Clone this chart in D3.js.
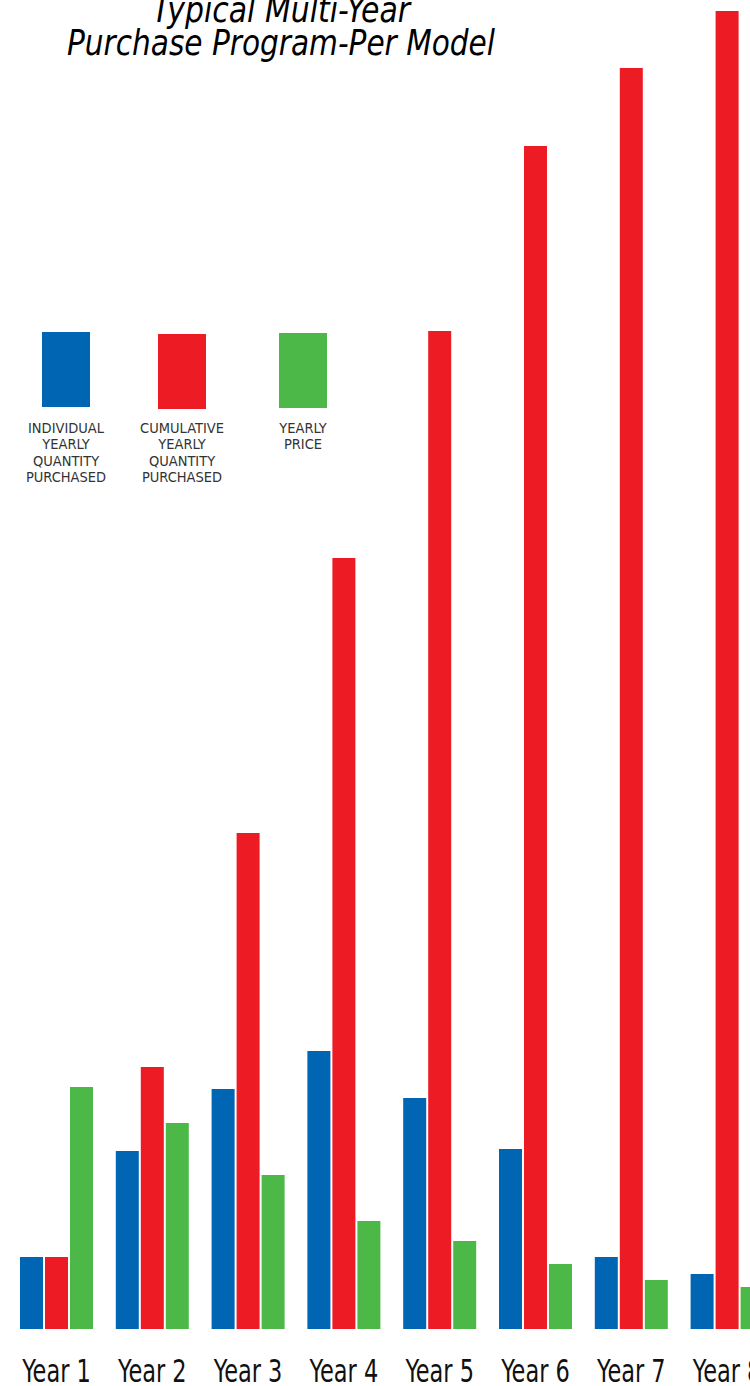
<!DOCTYPE html>
<html>
<head>
<meta charset="utf-8">
<script src="https://cdn.jsdelivr.net/npm/d3@7"></script>
<style>
  body { margin: 0; background: #fff; }
  svg { display: block; }
</style>
</head>
<body>
<svg width="750" height="1386"></svg>
<script>
var years = ['Year 1', 'Year 2', 'Year 3', 'Year 4', 'Year 5', 'Year 6', 'Year 7', 'Year 8'];
var seriesNames = ['individual', 'cumulative', 'price'];
var individualQty = [72, 178, 240, 278, 231, 180, 72, 55];
var cumulativeQty = [72, 262, 496, 771, 998, 1183, 1261, 1318];
var yearlyPrice = [242, 206, 154, 108, 88, 65, 49, 42];
var legendLabels = [
    ['INDIVIDUAL', 'YEARLY', 'QUANTITY', 'PURCHASED'],
    ['CUMULATIVE', 'YEARLY', 'QUANTITY', 'PURCHASED'],
    ['YEARLY', 'PRICE']
];
var titleLines = ['Typical Multi-Year', 'Purchase Program-Per Model'];

var colors = { individual: '#0066b3', cumulative: '#ed1c24', price: '#4cb848' };
var font = "'Liberation Sans Narrow', 'DejaVu Sans Condensed', sans-serif";

var svg = d3.select('svg');
var baseY = 1329;

var data = years.map(function (y, i) {
    return { year: y, individual: individualQty[i], cumulative: cumulativeQty[i], price: yearlyPrice[i] };
});

var step = 95.8;
var x0 = d3.scaleBand()
    .domain(years)
    .range([20 - 11.4, 20 - 11.4 + step * 8])
    .paddingInner(22.8 / step)
    .paddingOuter(11.4 / step);

var x1 = d3.scaleBand()
    .domain(seriesNames)
    .range([0, x0.bandwidth()])
    .paddingInner(0.08);

var y = d3.scaleLinear()
    .domain([0, 1329])
    .range([baseY, 0]);

// title (condensed italic)
var titleW = [258, 428];
var titleX = [281, 281];
svg.append('g').selectAll('text')
    .data(titleLines)
    .enter()
    .append('text')
    .attr('x', function (d, i) { return titleX[i] - titleW[i] / 2; })
    .attr('y', function (d, i) { return 22 + i * 33; })
    .attr('textLength', function (d, i) { return titleW[i]; })
    .attr('lengthAdjust', 'spacingAndGlyphs')
    .style('font-family', font)
    .style('font-style', 'italic')
    .style('font-size', '35px')
    .style('fill', '#000')
    .text(function (d) { return d; });

// bars
var groups = svg.append('g').selectAll('g')
    .data(data)
    .enter()
    .append('g')
    .attr('transform', function (d) { return 'translate(' + x0(d.year) + ',0)'; });

groups.selectAll('rect')
    .data(function (d) { return seriesNames.map(function (k) { return { key: k, value: d[k] }; }); })
    .enter()
    .append('rect')
    .attr('x', function (d) { return x1(d.key); })
    .attr('y', function (d) { return y(d.value); })
    .attr('width', x1.bandwidth())
    .attr('height', function (d) { return baseY - y(d.value); })
    .attr('fill', function (d) { return colors[d.key]; });

// x labels (condensed by a horizontal scale)
var xAxis = d3.axisBottom(x0).tickSize(0).tickPadding(0);
var axisG = svg.append('g')
    .attr('transform', 'translate(0,' + 1382 + ')')
    .call(xAxis);
axisG.select('.domain').remove();
axisG.selectAll('text')
    .attr('y', 0)
    .attr('dy', 0)
    .attr('text-anchor', 'middle')
    .attr('transform', 'scale(0.78,1)')
    .style('font-family', font)
    .style('font-size', '32px')
    .style('fill', '#111');

// legend
var legendX = [42, 158, 279];
var legendY = [332, 334, 333];
var legend = svg.append('g').selectAll('g')
    .data(seriesNames)
    .enter()
    .append('g')
    .attr('transform', function (d, i) { return 'translate(' + legendX[i] + ',' + legendY[i] + ')'; });

legend.append('rect')
    .attr('width', 48)
    .attr('height', 75)
    .attr('fill', function (d) { return colors[d]; });

legend.each(function (d, i) {
    d3.select(this).selectAll('text')
        .data(legendLabels[i])
        .enter()
        .append('text')
        .attr('x', 24)
        .attr('y', function (t, j) { return 433 - legendY[i] + j * 16.3; })
        .attr('text-anchor', 'middle')
        .style('font-family', font)
        .style('font-size', '14.5px')
        .style('fill', '#333')
        .text(function (t) { return t; });
});
</script>
</body>
</html>
